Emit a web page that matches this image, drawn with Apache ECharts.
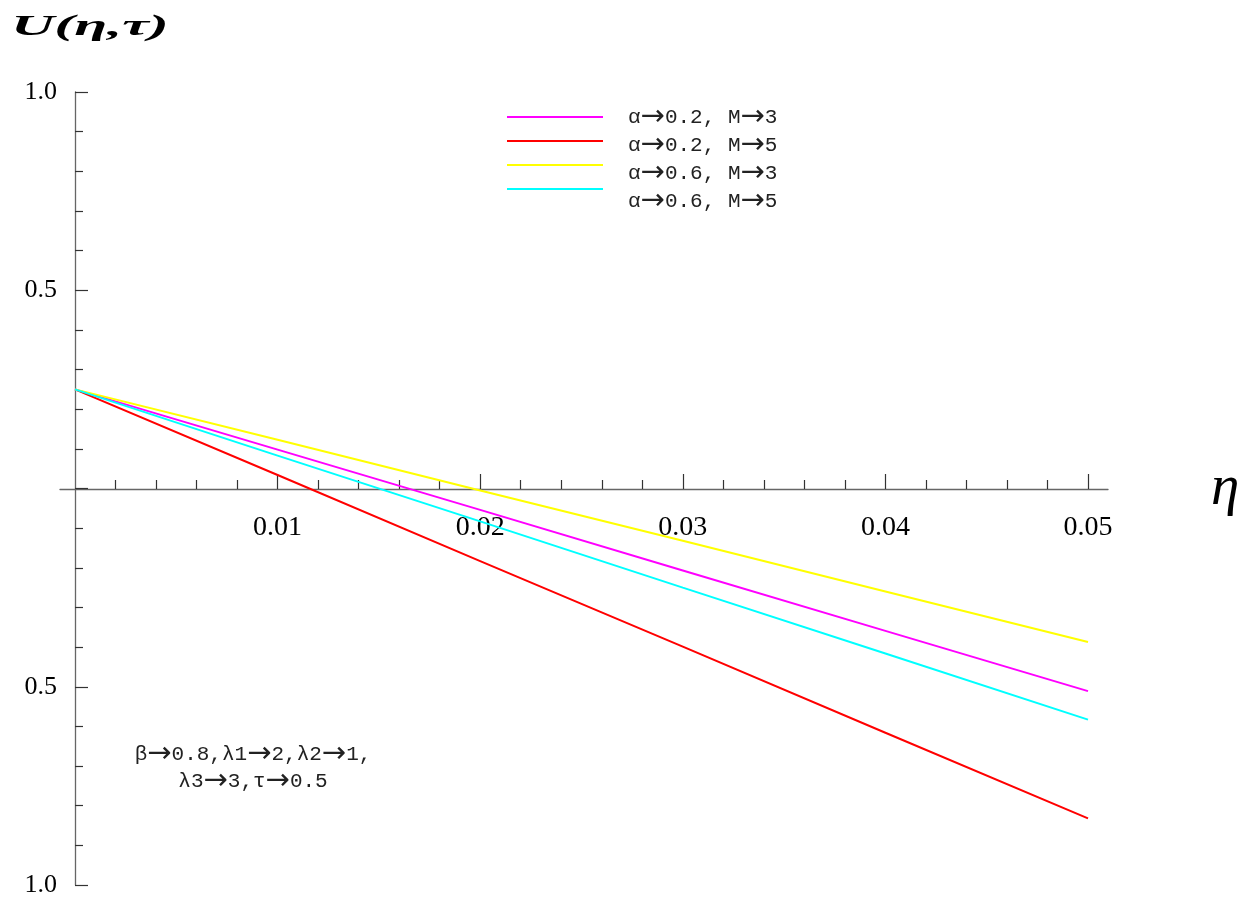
<!DOCTYPE html>
<html><head><meta charset="utf-8">
<script src="https://cdn.jsdelivr.net/npm/echarts@6/dist/echarts.min.js"></script>
<style>html,body{margin:0;padding:0;background:#fff}#c{width:1243px;height:910px}</style>
</head><body><div id="c"></div>
<script>
// ---- data ----
const etaValues = [0, 0.01, 0.02, 0.03, 0.04, 0.05];
const seriesNames = ['α→0.2, M→3', 'α→0.2, M→5', 'α→0.6, M→3', 'α→0.6, M→5'];
const uMagenta = [0.25, 0.098, -0.054, -0.207, -0.359, -0.511];
const uRed     = [0.25, 0.034, -0.183, -0.399, -0.616, -0.832];
const uYellow  = [0.25, 0.123, -0.005, -0.132, -0.260, -0.387];
const uCyan    = [0.25, 0.083, -0.083, -0.250, -0.416, -0.583];
const seriesColors = ['#ff00ff', '#ff0000', '#ffff00', '#00ffff'];
const xMajorTicks = [0.01, 0.02, 0.03, 0.04, 0.05];
const xMinorTicks = [0.002, 0.004, 0.006, 0.008, 0.012, 0.014, 0.016, 0.018,
  0.022, 0.024, 0.026, 0.028, 0.032, 0.034, 0.036, 0.038,
  0.042, 0.044, 0.046, 0.048];
const yMajorTicks = [-1, -0.5, 0, 0.5, 1];
const yLabelTicks = [-1, -0.5, 0.5, 1];
const yMinorTicks = [-0.9, -0.8, -0.7, -0.6, -0.4, -0.3, -0.2, -0.1,
  0.1, 0.2, 0.3, 0.4, 0.6, 0.7, 0.8, 0.9];
const paramText = 'β→0.8,λ1→2,λ2→1,\nλ3→3,τ→0.5';
const yTitle = 'U(η,τ)';
const xTitle = 'η';

// ---- chart ----
const serif = 'Liberation Serif';
const mono = 'Liberation Mono';
const arrowFont = 'DejaVu Sans';
const xMin = -0.00074, xMax = 0.050987;
const seriesData = [uMagenta, uRed, uYellow, uCyan];

// wrap arrows in a separate rich style (wider arrow glyph, as in the reference)
const richify = s => s.split('\n').map(line => '{t|' + line.replace(/→/g, '}{a|→}{t|') + '}').join('\n');

const chart = echarts.init(document.getElementById('c'), null, {renderer: 'canvas'});
const axisLineStyle = {color: '#666', width: 1.3};
const tickStyle = {color: '#333', width: 1.2};

chart.setOption({
  animation: false,
  backgroundColor: '#fff',
  title: [
    {text: richify(paramText), left: 253, top: 741, padding: 0, textAlign: 'center',
     textStyle: {fontWeight: 'normal', rich: {
       t: {fontFamily: mono, fontSize: 21, fontWeight: 'normal', lineHeight: 27, color: '#222'},
       a: {fontFamily: arrowFont, fontSize: 29, fontWeight: 'normal', lineHeight: 27, color: '#222'}}}}
  ],
  graphic: [
    {type: 'text', x: 11, y: 12, scaleX: 2.0, silent: true,
     style: {text: yTitle, font: 'italic bold 30px "Liberation Serif"', fill: '#000'}}
  ],
  legend: [
    // line samples
    {data: seriesNames, left: 507, top: 116, padding: 0, orient: 'vertical', itemGap: 22,
     icon: 'rect', itemWidth: 96, itemHeight: 2, selectedMode: false,
     formatter: () => '', textStyle: {fontSize: 1}},
    // labels
    {data: seriesNames, left: 623, top: 103, padding: 0, orient: 'vertical', itemGap: -1,
     icon: 'none', itemWidth: 0, itemHeight: 20, selectedMode: false,
     formatter: name => richify(name),
     textStyle: {rich: {
       t: {fontFamily: mono, fontSize: 21, lineHeight: 20, color: '#222'},
       a: {fontFamily: arrowFont, fontSize: 29, lineHeight: 20, color: '#222'}}}}
  ],
  grid: {left: 60, right: 135, top: 92, bottom: 25, containLabel: false, outerBoundsMode: 'none'},
  xAxis: [
    {type: 'value', min: xMin, max: xMax, position: 'bottom', offset: -396,
     name: xTitle, nameLocation: 'end', nameGap: 103,
     nameTextStyle: {fontFamily: serif, fontStyle: 'italic', fontSize: 57, color: '#000', verticalAlign: 'middle', padding: [34, 0, 0, 0]},
     axisLine: {show: true, onZero: false, lineStyle: axisLineStyle},
     axisTick: {show: true, inside: true, length: 15, customValues: xMajorTicks, lineStyle: tickStyle},
     axisLabel: {show: true, customValues: xMajorTicks, margin: 25, fontFamily: serif, fontSize: 28, color: '#000',
       formatter: v => v.toFixed(2)},
     splitLine: {show: false}},
    {type: 'value', min: xMin, max: xMax, position: 'bottom', offset: -396,
     axisLine: {show: false, onZero: false},
     axisTick: {show: true, inside: true, length: 9, customValues: xMinorTicks, lineStyle: tickStyle},
     axisLabel: {show: false}, splitLine: {show: false}}
  ],
  yAxis: [
    {type: 'value', min: -1, max: 1, position: 'left', offset: -15,
     axisLine: {show: true, onZero: false, lineStyle: axisLineStyle},
     axisTick: {show: true, inside: true, length: 13, customValues: yMajorTicks, lineStyle: tickStyle},
     axisLabel: {show: true, customValues: yLabelTicks, margin: 18,
       formatter: v => v < 0 ? '{m|−}{v|' + Math.abs(v).toFixed(1) + '}' : '{v|' + v.toFixed(1) + '}',
       rich: {m: {fontFamily: serif, fontSize: 26, color: '#000', padding: [0, 24, 0, 0]},
              v: {fontFamily: serif, fontSize: 26, color: '#000'}}},
     splitLine: {show: false}},
    {type: 'value', min: -1, max: 1, position: 'left', offset: -15,
     axisLine: {show: false, onZero: false},
     axisTick: {show: true, inside: true, length: 8, customValues: yMinorTicks, lineStyle: tickStyle},
     axisLabel: {show: false}, splitLine: {show: false}}
  ],
  series: seriesNames.map((n, i) => ({
    name: n, type: 'line', xAxisIndex: 0, yAxisIndex: 0,
    data: etaValues.map((x, k) => [x, seriesData[i][k]]),
    symbol: 'none', showSymbol: false, silent: true,
    color: seriesColors[i],
    lineStyle: {color: seriesColors[i], width: 2}
  }))
});
</script>
</body></html>
